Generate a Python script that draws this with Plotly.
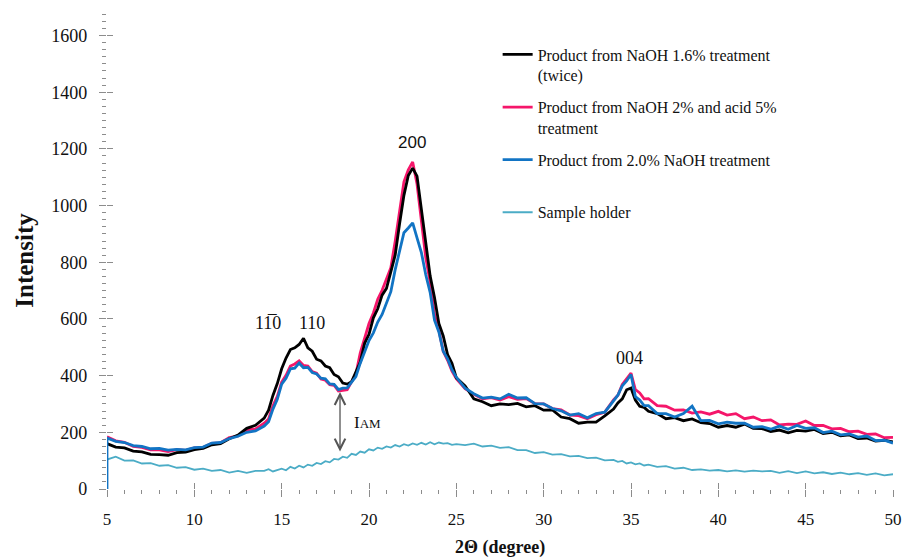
import plotly.graph_objects as go

# 2-theta grid (degree)
two_theta = [5.0, 5.5, 6.0, 6.5, 7.0, 7.5, 8.0, 8.5, 9.0, 9.5, 10.0, 10.5, 11.0, 11.5, 12.0, 12.5, 13.0, 13.5,
             14.0, 14.25, 14.5, 14.75, 15.0, 15.25, 15.5, 15.75, 16.0, 16.25, 16.5, 16.75, 17.0, 17.25, 17.5, 17.75,
             18.0, 18.25, 18.5, 18.75, 19.0, 19.25, 19.5, 19.75, 20.0, 20.25, 20.5, 20.75, 21.0, 21.25, 21.5, 21.75,
             22.0, 22.25, 22.5, 22.75, 23.0, 23.25, 23.5, 23.75, 24.0, 24.25, 24.5, 24.75, 25.0,
             25.5, 26.0, 26.5, 27.0, 27.5, 28.0, 28.5, 29.0, 29.5, 30.0, 30.5, 31.0, 31.5, 32.0, 32.5, 33.0, 33.5, 34.0,
             34.25, 34.5, 34.75, 35.0, 35.25, 35.5, 35.75, 36.0,
             36.5, 37.0, 37.5, 38.0, 38.5, 39.0, 39.5, 40.0, 40.5, 41.0, 41.5, 42.0, 42.5, 43.0, 43.5, 44.0, 44.5,
             45.0, 45.5, 46.0, 46.5, 47.0, 47.5, 48.0, 48.5, 49.0, 49.5, 50.0]

naoh16_twice = [160, 148, 145, 134, 131, 122, 121, 119, 128, 130, 139, 143, 156, 160, 177, 190, 214, 225,
                250, 278, 330, 372, 424, 462, 492, 498, 510, 532, 498, 486, 458, 452, 434, 428,
                404, 396, 374, 370, 378, 414, 448, 514, 546, 604, 636, 684, 708, 766, 826, 936,
                1036, 1106, 1132, 1104, 980, 866, 752, 676, 584, 540, 474, 444, 392,
                364, 318, 308, 294, 300, 298, 302, 290, 294, 278, 279, 254, 248, 232, 236, 236, 258, 282,
                304, 318, 350, 356, 314, 292, 288, 274,
                266, 248, 252, 241, 247, 234, 231, 218, 224, 218, 229, 214, 213, 203, 208, 198, 207,
                204, 210, 196, 200, 188, 191, 178, 180, 169, 172, 166]

naoh2_acid5 = [184, 170, 165, 150, 147, 138, 138, 132, 139, 136, 145, 146, 161, 163, 181, 187, 209, 212,
               232, 247, 294, 327, 377, 401, 434, 441, 452, 436, 434, 414, 409, 388, 384, 368,
               366, 346, 348, 350, 378, 406, 480, 536, 584, 621, 669, 701, 740, 781, 874, 986,
               1084, 1126, 1154, 1076, 934, 816, 730, 616, 560, 486, 454, 416, 389,
               354, 334, 318, 322, 314, 326, 316, 319, 301, 300, 284, 279, 261, 259, 248, 262, 271, 314,
               331, 369, 388, 409, 351, 339, 318, 319,
               294, 292, 278, 279, 268, 272, 264, 274, 261, 266, 248, 254, 241, 244, 226, 229, 228,
               240, 224, 224, 212, 214, 202, 204, 193, 194, 181, 182]

naoh20 = [180, 168, 164, 153, 150, 142, 143, 137, 140, 138, 146, 148, 162, 164, 178, 186, 200, 205,
          222, 237, 282, 317, 370, 391, 424, 426, 444, 428, 429, 411, 406, 391, 389, 371,
          369, 351, 356, 357, 379, 397, 444, 486, 524, 551, 589, 616, 659, 696, 774, 836,
          904, 921, 939, 886, 834, 756, 694, 596, 554, 486, 459, 421, 394,
          356, 336, 321, 324, 318, 334, 321, 322, 301, 300, 284, 276, 261, 266, 251, 266, 271, 314,
          331, 364, 381, 404, 326, 314, 294, 294,
          266, 266, 254, 266, 292, 241, 242, 230, 236, 232, 232, 218, 220, 211, 222, 211, 224,
          214, 216, 199, 204, 191, 194, 183, 187, 171, 172, 162]

sample_holder = [104, 114, 100, 101, 90, 91, 82, 84, 75, 77, 68, 72, 64, 67, 58, 64, 57, 64,
                 64, 70, 62, 68, 72, 66, 78, 72, 82, 76, 86, 82, 92, 88, 98, 94,
                 106, 104, 114, 110, 124, 120, 132, 128, 140, 136, 146, 142, 150, 146, 155, 150,
                 158, 153, 161, 156, 163, 157, 165, 158, 164, 160, 162, 156, 158,
                 155, 160, 150, 153, 145, 148, 137, 137, 127, 130, 121, 123, 115, 117, 109, 111, 101, 103,
                 96, 99, 90, 94, 87, 90, 83, 86,
                 78, 81, 72, 75, 67, 69, 65, 67, 62, 66, 61, 65, 62, 64, 57, 63, 56,
                 62, 55, 59, 53, 58, 52, 56, 50, 55, 48, 52]

blue_x = [5.0] + two_theta
blue_y = [0] + naoh20

series_names = ["Product from NaOH 1.6% treatment<br>(twice)",
                "Product from NaOH 2% and acid 5%<br>treatment",
                "Product from 2.0% NaOH treatment<br>\u00a0",
                "Sample holder"]

x_ticks = [5, 10, 15, 20, 25, 30, 35, 40, 45, 50]
y_ticks = [0, 200, 400, 600, 800, 1000, 1200, 1400, 1600]
x_range = [5, 50]
y_range = [0, 1690]

SERIF = "Liberation Serif, Times New Roman, serif"

fig = go.Figure()
fig.add_trace(go.Scatter(x=two_theta, y=naoh16_twice, mode="lines", name=series_names[0],
                         line=dict(color="#000000", width=2.8), legendgroup="a", zorder=2))
fig.add_trace(go.Scatter(x=two_theta, y=naoh2_acid5, mode="lines", name=series_names[1],
                         line=dict(color="#F5166A", width=2.8), legendgroup="b", zorder=1))
fig.add_trace(go.Scatter(x=blue_x, y=blue_y, mode="lines", name=series_names[2],
                         line=dict(color="#1274C4", width=2.8), legendgroup="c", zorder=3))
fig.add_trace(go.Scatter(x=two_theta, y=sample_holder, mode="lines", name=series_names[3],
                         line=dict(color="#4BACC6", width=1.8), legendgroup="d", zorder=0))
# invisible trace on overlay axes so their inward tick marks get drawn (major ticks cross the axes)
fig.add_trace(go.Scatter(x=[x_range[0]], y=[y_range[0]], xaxis="x2", yaxis="y2", mode="markers",
                         marker=dict(opacity=0), showlegend=False, hoverinfo="skip"))

axis_col = "#8C8C8C"
fig.update_layout(
    xaxis=dict(range=x_range, tickvals=x_ticks, showline=True, linecolor=axis_col, linewidth=1.3,
               ticks="outside", ticklen=7, tickcolor=axis_col, showgrid=False, zeroline=False,
               tickfont=dict(family=SERIF, size=17, color="#111"), ticklabelstandoff=7,
               minor=dict(dtick=1, ticks="outside", ticklen=4, tickcolor=axis_col, showgrid=False)),
    yaxis=dict(range=y_range, tickvals=y_ticks, showline=True, linecolor=axis_col, linewidth=1.3,
               ticks="outside", ticklen=7, tickcolor=axis_col, showgrid=False, zeroline=False,
               tickfont=dict(family=SERIF, size=18, color="#111"), ticklabelstandoff=8,
               minor=dict(dtick=25, ticks="outside", ticklen=4, tickcolor=axis_col, showgrid=False)),
    xaxis2=dict(range=x_range, overlaying="x", anchor="y2", tickvals=x_ticks, ticks="inside", ticklen=6,
                tickcolor=axis_col, showticklabels=False, showgrid=False, zeroline=False, showline=False),
    yaxis2=dict(range=y_range, overlaying="y", anchor="x2", tickvals=y_ticks, ticks="inside", ticklen=6,
                tickcolor=axis_col, showticklabels=False, showgrid=False, zeroline=False, showline=False),
)

ann = []
ann.append(dict(text="<b>Intensity</b>", xref="paper", yref="paper", x=-0.106, y=0.478, showarrow=False,
                textangle=-90, font=dict(family=SERIF, size=25, color="#111"), xanchor="center", yanchor="middle"))
ann.append(dict(text="<b>2\u0398 (degree)</b>", xref="paper", yref="paper", x=0.5, y=-0.122, showarrow=False,
                font=dict(family=SERIF, size=18, color="#111"), xanchor="center", yanchor="middle"))
ann.append(dict(text="11\u03050", x=14.2, y=586, showarrow=False, font=dict(family=SERIF, size=18, color="#111")))
ann.append(dict(text="110", x=16.74, y=586, showarrow=False, font=dict(family=SERIF, size=18, color="#111")))
ann.append(dict(text="200", x=22.45, y=1224, showarrow=False,
                font=dict(family="Liberation Sans, Arial, sans-serif", size=17, color="#111")))
ann.append(dict(text="004", x=34.9, y=462, showarrow=False, font=dict(family=SERIF, size=18, color="#111")))
ann.append(dict(text="I<span style='font-size:13px'>AM</span>", x=19.0, y=233, showarrow=False, xanchor="left",
                font=dict(family=SERIF, size=17, color="#111")))
ann.append(dict(x=18.34, y=342, ax=18.34, ay=127, xref="x", yref="y", axref="x", ayref="y", text="",
                showarrow=True, arrowhead=5, startarrowhead=5, arrowside="end+start", arrowsize=1.6,
                arrowwidth=1.3, arrowcolor="#555555"))

fig.update_layout(
    width=917, height=560,
    margin=dict(l=107, r=24, t=10, b=71),
    plot_bgcolor="white", paper_bgcolor="white",
    annotations=ann,
    legend=dict(x=0.497, y=0.9425, xanchor="left", yanchor="top", bgcolor="rgba(0,0,0,0)",
                font=dict(family=SERIF, size=16, color="#111"), valign="top",
                tracegroupgap=8, itemwidth=30),
    showlegend=True,
)

fig.write_html("out.html")
